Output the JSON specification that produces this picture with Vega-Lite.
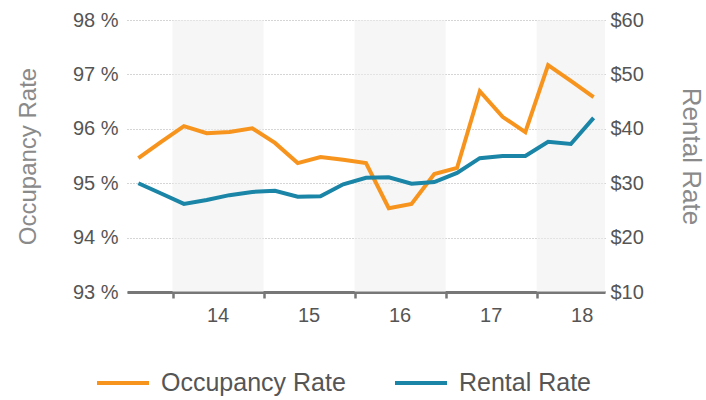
{
  "$schema": "https://vega.github.io/schema/vega-lite/v6.json",
  "width": 478,
  "height": 272,
  "autosize": {"type": "none"},
  "padding": {"left": 127, "top": 20, "right": 101, "bottom": 108},
  "background": "white",
  "config": {
    "view": {"stroke": null},
    "font": "Liberation Sans",
    "axis": {"labelFont": "Liberation Sans", "titleFont": "Liberation Sans"}
  },
  "datasets": {
    "bands": [
      {"start": 14, "end": 15},
      {"start": 16, "end": 17},
      {"start": 18, "end": 18.75}
    ],
    "series": [
      {"q": 13.625, "occ": 95.46, "rent": 30.0},
      {"q": 13.875, "occ": 95.76, "rent": 28.1},
      {"q": 14.125, "occ": 96.05, "rent": 26.2},
      {"q": 14.375, "occ": 95.92, "rent": 26.9},
      {"q": 14.625, "occ": 95.94, "rent": 27.8},
      {"q": 14.875, "occ": 96.01, "rent": 28.4},
      {"q": 15.125, "occ": 95.74, "rent": 28.6},
      {"q": 15.375, "occ": 95.37, "rent": 27.5},
      {"q": 15.625, "occ": 95.48, "rent": 27.6},
      {"q": 15.875, "occ": 95.43, "rent": 29.8},
      {"q": 16.125, "occ": 95.37, "rent": 31.0},
      {"q": 16.375, "occ": 94.54, "rent": 31.1},
      {"q": 16.625, "occ": 94.62, "rent": 29.9},
      {"q": 16.875, "occ": 95.17, "rent": 30.2},
      {"q": 17.125, "occ": 95.28, "rent": 31.9},
      {"q": 17.375, "occ": 96.69, "rent": 34.6},
      {"q": 17.625, "occ": 96.22, "rent": 35.0},
      {"q": 17.875, "occ": 95.94, "rent": 35.0},
      {"q": 18.125, "occ": 97.17, "rent": 37.6},
      {"q": 18.375, "occ": 96.88, "rent": 37.2},
      {"q": 18.625, "occ": 96.58, "rent": 42.0}
    ]
  },
  "layer": [
    {
      "data": {"name": "bands"},
      "mark": {"type": "rect", "color": "#eeeeee", "opacity": 0.55},
      "encoding": {
        "x": {
          "field": "start", "type": "quantitative",
          "scale": {"domain": [13.5, 18.75], "nice": false, "zero": false},
          "axis": {
            "title": null, "values": [14, 15, 16, 17, 18], "grid": false,
            "labelExpr": "format(datum.value, 'd')",
            "labelOffset": 45, "labelFontSize": 20, "labelColor": "#555555",
            "labelPadding": 7, "tickSize": 6, "tickWidth": 2.5, "tickColor": "#777777",
            "domainColor": "#777777", "domainWidth": 3
          }
        },
        "x2": {"field": "end"}
      }
    },
    {
      "data": {"name": "series"},
      "layer": [
        {
          "mark": {"type": "line", "strokeWidth": 4},
          "encoding": {
            "x": {"field": "q", "type": "quantitative"},
            "y": {
              "field": "occ", "type": "quantitative",
              "scale": {"domain": [93, 98], "nice": false, "zero": false},
              "axis": {
                "values": [93, 94, 95, 96, 97, 98],
                "labelExpr": "datum.value + ' %'",
                "title": "Occupancy Rate", "titleFontSize": 24, "titleFontWeight": "normal",
                "titleColor": "#8a8a8a", "titlePadding": 32,
                "labelFontSize": 20, "labelColor": "#555555", "labelPadding": 9,
                "domain": false, "ticks": false,
                "grid": true, "gridDash": [1, 2], "gridColor": "#aaaaaa", "gridWidth": 1
              }
            },
            "color": {
              "datum": "Occupancy Rate",
              "scale": {"domain": ["Occupancy Rate", "Rental Rate"], "range": ["#F7941E", "#1A85A6"]},
              "legend": {
                "title": null, "orient": "none", "legendX": -32, "legendY": 335,
                "direction": "horizontal", "symbolType": "stroke", "symbolSize": 2704,
                "symbolStrokeWidth": 4, "labelFontSize": 25, "labelColor": "#555555",
                "labelOffset": 10, "columnPadding": 41, "labelLimit": 300
              }
            }
          }
        },
        {
          "mark": {"type": "line", "strokeWidth": 4},
          "encoding": {
            "x": {"field": "q", "type": "quantitative"},
            "y": {
              "field": "rent", "type": "quantitative",
              "scale": {"domain": [10, 60], "nice": false, "zero": false},
              "axis": {
                "orient": "right",
                "values": [10, 20, 30, 40, 50, 60],
                "labelExpr": "'$' + datum.value",
                "title": "Rental Rate", "titleFontSize": 26, "titleFontWeight": "normal",
                "titleColor": "#8a8a8a", "titlePadding": 34,
                "labelFontSize": 20, "labelColor": "#555555", "labelPadding": 5,
                "domain": false, "ticks": false, "grid": false
              }
            },
            "color": {"datum": "Rental Rate"}
          }
        }
      ],
      "resolve": {"scale": {"y": "independent"}}
    }
  ]
}
